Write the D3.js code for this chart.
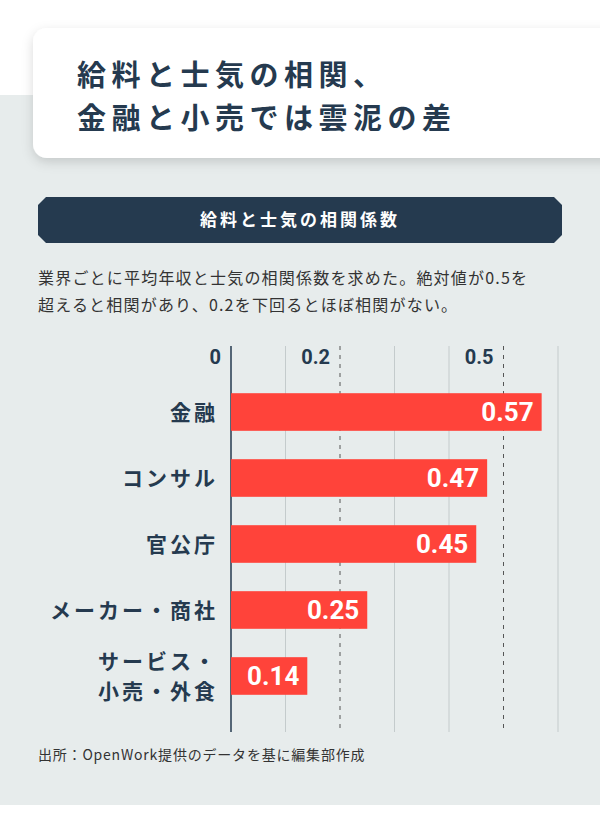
<!DOCTYPE html>
<html><head><meta charset="utf-8">
<script src="https://cdn.jsdelivr.net/npm/d3@7"></script>
<style>body{margin:0;background:#e7ecec;}svg{display:block;font-family:"Noto Sans CJK JP","Noto Sans",sans-serif;}</style>
</head><body><div id="chart"></div>
<script>
const categories = [["金融"], ["コンサル"], ["官公庁"], ["メーカー・商社"], ["サービス・", "小売・外食"]];
const values = [0.57, 0.47, 0.45, 0.25, 0.14];
const gridValues = [0, 0.1, 0.2, 0.3, 0.4, 0.5, 0.6];
const tickLabels = [0, 0.2, 0.5];
const dashed = [0.2, 0.5];

const width = 600, height = 825;
const navy = "#253a4f";
const svg = d3.select("#chart").append("svg").attr("width", width).attr("height", height);

svg.append("rect").attr("width", width).attr("height", height).attr("fill", "#e7ecec");
svg.append("rect").attr("width", width).attr("height", 95).attr("fill", "#fff");
svg.append("rect").attr("y", 805).attr("width", width).attr("height", 20).attr("fill", "#fff");

const defs = svg.append("defs");
const f = defs.append("filter").attr("id", "sh").attr("x", "-10%").attr("y", "-20%").attr("width", "130%").attr("height", "160%");
f.append("feDropShadow").attr("dx", 0).attr("dy", 4).attr("stdDeviation", 6).attr("flood-color", "#000").attr("flood-opacity", 0.15);

svg.append("rect").attr("x", 33).attr("y", 28).attr("width", 600).attr("height", 130).attr("rx", 14)
  .attr("fill", "#fff").attr("filter", "url(#sh)");
svg.append("text").attr("x", 77).attr("y", 86).attr("font-size", 29).attr("font-weight", "bold")
  .attr("fill", navy).attr("letter-spacing", 5.5).text("給料と士気の相関、");
svg.append("text").attr("x", 77).attr("y", 129).attr("font-size", 29).attr("font-weight", "bold")
  .attr("fill", navy).attr("letter-spacing", 5.5).text("金融と小売では雲泥の差");

// banner
const bx0 = 38, bx1 = 562, by0 = 197, by1 = 243, c = 8;
svg.append("path").attr("fill", navy)
  .attr("d", `M${bx0 + c},${by0}H${bx1 - c}L${bx1},${by0 + c}V${by1 - c}L${bx1 - c},${by1}H${bx0 + c}L${bx0},${by1 - c}V${by0 + c}Z`);
svg.append("text").attr("x", 300).attr("y", 226).attr("text-anchor", "middle").attr("font-size", 17)
  .attr("font-weight", "bold").attr("fill", "#fff").attr("letter-spacing", 3).text("給料と士気の相関係数");

svg.append("text").attr("x", 38).attr("y", 284).attr("font-size", 16).attr("fill", "#333").attr("letter-spacing", 1.2)
  .text("業界ごとに平均年収と士気の相関係数を求めた。絶対値が0.5を");
svg.append("text").attr("x", 38).attr("y", 311).attr("font-size", 16).attr("fill", "#333").attr("letter-spacing", 1.2)
  .text("超えると相関があり、0.2を下回るとほぼ相関がない。");

const x = d3.scaleLinear().domain([0, 0.6]).range([231, 558]);
const y = d3.scaleBand().domain(d3.range(values.length)).range([380, 708]).paddingInner(0.43).paddingOuter(0.2);

const g = svg.append("g");
g.selectAll("line.grid").data(gridValues).join("line")
  .attr("x1", d => x(d)).attr("x2", d => x(d)).attr("y1", 346).attr("y2", 732)
  .attr("stroke", d => d === 0 ? navy : dashed.includes(d) ? "#555" : "#c4cbcc")
  .attr("stroke-width", d => d === 0 ? 1.5 : 1)
  .attr("stroke-dasharray", d => dashed.includes(d) ? "4,5" : null);

g.selectAll("text.tick").data(tickLabels).join("text")
  .attr("x", d => x(d) - 10).attr("y", 364).attr("text-anchor", "end")
  .attr("font-size", 20).attr("font-weight", "bold").attr("fill", navy).attr("font-family", "Roboto, sans-serif")
  .text(d => d);

g.selectAll("rect.bar").data(values).join("rect")
  .attr("x", x(0)).attr("y", (d, i) => y(i)).attr("width", d => x(d) - x(0)).attr("height", y.bandwidth())
  .attr("fill", "#ff433a");

g.selectAll("text.val").data(values).join("text")
  .attr("x", d => x(d) - 8).attr("y", (d, i) => y(i) + y.bandwidth() / 2 + 9).attr("text-anchor", "end")
  .attr("font-size", 26).attr("font-weight", "bold").attr("fill", "#fff").attr("font-family", "Roboto, sans-serif")
  .text(d => d.toFixed(2));

categories.forEach((lines, i) => {
  const cy = y(i) + y.bandwidth() / 2;
  lines.forEach((t, j) => {
    svg.append("text").attr("x", 218).attr("y", cy + 8 + (j - (lines.length - 1) / 2) * 30)
      .attr("text-anchor", "end").attr("font-size", 21).attr("font-weight", "bold").attr("fill", navy)
      .attr("letter-spacing", 3).text(t);
  });
});

svg.append("text").attr("x", 38).attr("y", 760).attr("font-size", 14).attr("fill", "#333").attr("letter-spacing", 0.8)
  .text("出所：OpenWork提供のデータを基に編集部作成");
</script></body></html>
